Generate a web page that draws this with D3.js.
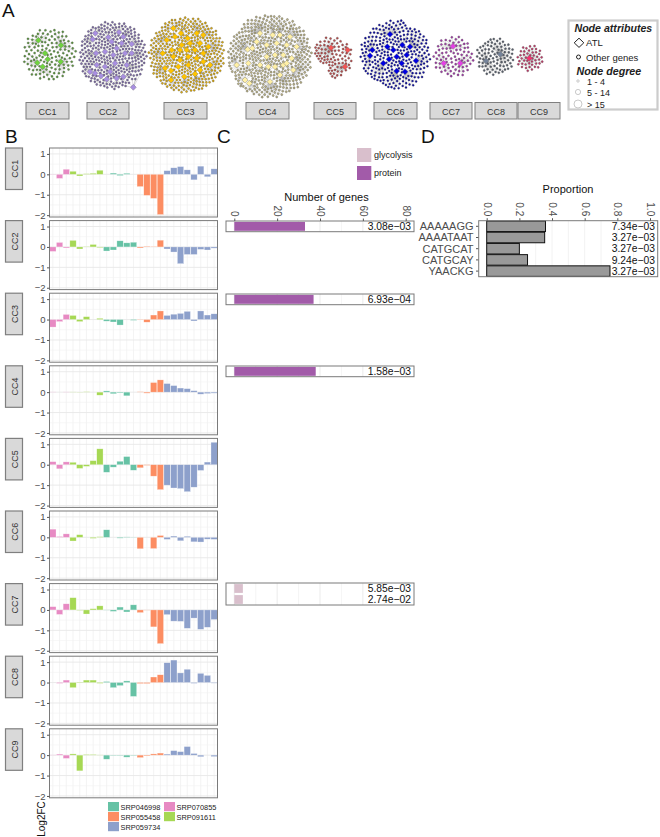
<!DOCTYPE html>
<html><head><meta charset="utf-8">
<script src="https://cdn.jsdelivr.net/npm/d3@7"></script>
<style>html,body{margin:0;padding:0;background:#fff}svg{display:block}text{font-family:"Liberation Sans",Arial,sans-serif}</style>
</head><body><svg id="c" width="660" height="837"></svg>
<script>
// ---------- Data ----------
const ccNames = ["CC1","CC2","CC3","CC4","CC5","CC6","CC7","CC8","CC9"];
const studies = ["SRP070855","SRP091611","SRP046998","SRP055458","SRP059734"];
const studyOfSample = [0,0,0,1,1,1,1,1,2,2,2,2,2,3,3,3,3,4,4,4,4,4,4,4,4];
const studyColors = ["#e78ac3","#a6d854","#66c2a5","#fc8d62","#8da0cb"];
const yTicks = [1,0,-1,-2];

const log2fcCC1 = [0.01,-0.2,0.25,0.15,-0.08,0.03,0.05,0.2,0,0.06,-0.06,0.05,0,-0.6,-1.03,-1.18,-1.97,0.18,0.32,0.38,0.22,-0.27,0.4,-0.12,0.27];
const log2fcCC2 = [-0.22,0.22,-0.05,0.32,-0.1,0.02,0.12,-0.03,-0.2,-0.15,0.3,0.2,0.23,-0.05,0.03,0.02,0.33,-0.1,-0.25,-0.82,-0.37,-0.37,-0.12,-0.15,-0.06];
const log2fcCC3 = [-0.37,-0.1,0.25,0.2,-0.1,0.14,0,0.06,-0.08,-0.12,-0.27,0,-0.04,-0.02,-0.13,0.22,0.42,0.2,0.26,0.3,0.4,-0.07,0.42,0.22,0.28];
const log2fcCC4 = [0.01,0,0.01,0.01,-0.01,0.02,0,-0.15,0.06,-0.08,-0.04,-0.18,0,0.02,-0.05,0.47,0.6,0.42,0.32,0.2,0.17,0.07,-0.1,-0.07,-0.05];
const log2fcCC5 = [0.15,-0.2,0.14,0.12,-0.18,-0.08,0.2,0.78,-0.37,-0.12,0.17,0.4,-0.27,-0.15,-0.03,-0.56,-1.22,-1.0,-1.14,-1.17,-1.32,-1.1,-0.28,0.13,1.1];
const log2fcCC6 = [0.4,0.04,0.17,-0.18,0.13,0,-0.05,0.03,0.37,0,-0.04,0.02,0.01,-0.56,0,-0.55,0.09,-0.1,0.06,-0.17,0.05,-0.22,-0.23,-0.09,-0.1];
const log2fcCC7 = [0.16,-0.22,0.3,0.6,-0.02,-0.2,0.06,0.2,-0.01,-0.07,0.14,-0.1,0.25,-0.13,-0.01,-0.83,-1.65,-0.23,-0.55,-0.56,-0.9,-0.4,-0.95,-0.85,-0.47];
const log2fcCC8 = [0,-0.04,0.12,-0.25,0.02,0.12,0.12,-0.04,0.05,-0.25,-0.15,0.08,-0.68,-0.05,-0.05,0.27,0.38,0.97,1.1,0.47,0.65,-0.04,0.45,0.35,-0.03];
const log2fcCC9 = [0.01,0.05,-0.16,0.06,-0.77,0.03,0.03,0.01,-0.2,-0.02,-0.02,-0.1,-0.02,-0.12,-0.04,0.06,0.1,0.05,0.22,0.17,0.42,0.08,-0.08,0,-0.07];
const log2fc = [log2fcCC1,log2fcCC2,log2fcCC3,log2fcCC4,log2fcCC5,log2fcCC6,log2fcCC7,log2fcCC8,log2fcCC9];

// Panel C: enrichment rows per CC
const geneTicks = [0,20,40,60,80];
const geneCC1 = [{term:"protein",genes:33,p:"3.08e\u221203"}];
const geneCC3 = [{term:"protein",genes:37,p:"6.93e\u221204"}];
const geneCC4 = [{term:"protein",genes:38,p:"1.58e\u221203"}];
const geneCC7 = [{term:"glycolysis",genes:4,p:"5.85e\u221203"},{term:"glycolysis",genes:4,p:"2.74e\u221202"}];
const geneRows = [[0,geneCC1],[2,geneCC3],[3,geneCC4],[6,geneCC7]];
const termNames = ["glycolysis","protein"];
const termColors = ["#d9bfcc","#a25ba9"];

// Panel D: motifs
const motifs = ["AAAAAGG","AAAATAAT","CATGCAT","CATGCAY","YAACKG"];
const motifProportion = [0.36,0.355,0.2,0.25,0.755];
const motifP = ["7.34e\u221203","3.27e\u221203","3.27e\u221203","9.24e\u221203","3.27e\u221203"];
const propTicks = [0,0.2,0.4,0.6,0.8,1];

// Panel A: network, hub positions, leaf counts estimated
const hubsCC1 = [[115,121],[183,136],[135,160],[143,178],[112,188],[128,200],[182,185]];
const hubsCC2 = [[278,118],[286,100],[325,112],[357,97],[370,110],[335,125],[365,130],[395,132],[288,160],[315,155],[340,165],[375,160],[395,160],[350,145],[290,195],[315,200],[270,215],[285,220],[303,228],[330,215],[350,235],[320,238],[370,230],[400,262],[345,190],[380,195]];
const hubsCC3 = [[520,85],[543,100],[563,115],[590,100],[610,105],[500,120],[525,110],[545,135],[570,130],[600,130],[625,140],[488,160],[515,150],[540,150],[560,150],[585,150],[610,160],[495,205],[520,170],[540,180],[565,170],[590,175],[630,195],[513,212],[535,200],[565,195],[600,210],[553,230],[585,222],[513,240],[610,185]];
const hubsCC4 = [[780,100],[818,105],[840,105],[870,110],[770,125],[800,135],[830,130],[860,135],[890,140],[743,148],[757,145],[800,170],[825,165],[850,165],[875,175],[745,190],[780,195],[805,200],[825,200],[850,195],[880,210],[710,195],[735,240],[748,250],[810,245],[840,225],[860,190]];
const hubsCC5 = [[3,143],[53,150],[45,200]];
const hubsCC6 = [[180,103],[127,150],[120,167],[172,140],[217,135],[240,140],[160,190],[177,178],[200,170],[230,165],[258,182],[200,213],[225,215],[190,150],[215,190]];
const hubsCC7 = [[369,139],[341,190],[391,190]];
const hubsCC8 = [[511,163],[468,183]];
const hubsCC9 = [[598,175]];
const leafCounts = [125,290,370,420,85,260,80,85,45];
const netCentres = [[148,163],[338,165],[560,165],[810,168],[6,172],[196,165],[370,170],[495,170],[600,175]];
const netRadii = [80,102,114,126,62,106,62,58,40];
const netReach = [0.62,0.46,0.42,0.44,0.72,0.5,0.72,0.9,1];
const netSheet = [0,0,0,0,1,1,1,1,1];
const netHubs = [hubsCC1,hubsCC2,hubsCC3,hubsCC4,hubsCC5,hubsCC6,hubsCC7,hubsCC8,hubsCC9];
const leafColors = ["#5f9d3f","#7f6cab","#e2ae08","#bdb484","#c04a4a","#0c0ca8","#a83bb0","#59616f","#c8386a"];
const hubColors  = ["#6fd33f","#a88fe0","#ffc400","#fff0a6","#f25555","#0505e0","#e53fe5","#74839a","#f5336f"];
const stripA = [[26,69],[87,129],[164,207],[246,289],[314,356],[374,417],[430,472],[475,517],[518,560]];

// ---------- Drawing ----------
const svg = d3.select("#c");
const FONT = '"Liberation Sans",Arial,sans-serif';
svg.append("defs").append("filter").attr("id","soft").attr("x","-5%").attr("y","-5%").attr("width","110%").attr("height","110%")
  .append("feGaussianBlur").attr("stdDeviation",0.3);
const letter = (t,x,y)=>svg.append("text").attr("x",x).attr("y",y).attr("font-size",19).attr("fill","#111").text(t);
letter("A",2,17); letter("B",5,143); letter("C",217,143); letter("D",421,143);

// Panel A
const sheetX = [d3.scaleLinear().domain([0,990]).range([0,330]), d3.scaleLinear().domain([0,990]).range([330,660])];
const sheetY = d3.scaleLinear().domain([0,390]).range([0,130]);
const gNet = svg.append("g").attr("filter","url(#soft)");
netHubs.forEach((hubList,i)=>{
  const sx = sheetX[netSheet[i]];
  const cx = sx(netCentres[i][0]), cy = sheetY(netCentres[i][1]), R = sx(netRadii[i])-sx(0);
  const hubs = hubList.map(h=>({x:sx(h[0]),y:sheetY(h[1]),fx:sx(h[0]),fy:sheetY(h[1]),hub:true}));
  const n = leafCounts[i];
  const golden = Math.PI*(3-Math.sqrt(5));
  const leaves = d3.range(n).map(k=>{
    const rr = R*Math.sqrt((k+0.5)/n), a = k*golden;
    return {x:cx+rr*Math.cos(a),y:cy+rr*Math.sin(a)};
  });
  const links = leaves.map(l=>{
    const t = hubs[d3.leastIndex(hubs,h=>(h.x-l.x)**2+(h.y-l.y)**2)];
    const d0 = Math.hypot(t.x-l.x,t.y-l.y);
    return {source:l,target:t,d:Math.max(R*0.16,Math.min(d0,R*netReach[i]))};
  });
  const nodes = hubs.concat(leaves);
  const sim = d3.forceSimulation(nodes)
    .force("link",d3.forceLink(links).distance(d=>d.d).strength(0.22))
    .force("col",d3.forceCollide(1.6).strength(0.6))
    .stop();
  sim.alpha(0.7); sim.tick(80);
  leaves.forEach(l=>{
    const dx=l.x-cx,dy=l.y-cy,d=Math.hypot(dx,dy);
    if(d>R){l.x=cx+dx/d*R;l.y=cy+dy/d*R;}
  });
  const g = gNet.append("g");
  g.selectAll("line").data(links).join("line")
    .attr("x1",d=>d.source.x).attr("y1",d=>d.source.y)
    .attr("x2",d=>d.target.x).attr("y2",d=>d.target.y)
    .attr("stroke","#9a9a9a").attr("stroke-width",0.4).attr("stroke-opacity",0.75);
  g.selectAll("circle").data(leaves).join("circle")
    .attr("cx",d=>d.x).attr("cy",d=>d.y).attr("r",1.05)
    .attr("fill",leafColors[i]).attr("stroke","#333").attr("stroke-width",0.3);
  g.selectAll("path").data(hubs).join("path")
    .attr("d",d=>`M${d.x},${d.y-3}L${d.x+3},${d.y}L${d.x},${d.y+3}L${d.x-3},${d.y}Z`)
    .attr("fill",hubColors[i]).attr("stroke","#555").attr("stroke-width",0.3);
  // strip
  svg.append("rect").attr("x",stripA[i][0]).attr("y",102.5).attr("width",stripA[i][1]-stripA[i][0]).attr("height",16.5)
    .attr("fill","#d9d9d9").attr("stroke","#7f7f7f").attr("stroke-width",1);
  svg.append("text").attr("x",(stripA[i][0]+stripA[i][1])/2).attr("y",114.5).attr("text-anchor","middle")
    .attr("font-size",9).attr("fill","#333").text(ccNames[i]);
});

// Node legend
const lg = svg.append("g");
lg.append("rect").attr("x",568.5).attr("y",20.5).attr("width",89).attr("height",89).attr("fill","#fff").attr("stroke","#ccc").attr("stroke-width",2.2);
const lgT=(t,x,y,o={})=>lg.append("text").attr("x",x).attr("y",y).attr("font-size",o.s||9.5).attr("fill","#222")
   .attr("font-weight",o.b?"bold":null).attr("font-style",o.b?"italic":null).text(t);
lgT("Node attributes",574.5,31.5,{b:1,s:10.6});
lg.append("path").attr("d","M579,38.2L583.8,42.8L579,47.4L574.2,42.8Z").attr("fill","#fff").attr("stroke","#222").attr("stroke-width",1);
lgT("ATL",586,46);
lg.append("circle").attr("cx",578.5).attr("cy",57).attr("r",2).attr("fill","#fff").attr("stroke","#222").attr("stroke-width",1);
lgT("Other genes",586,61);
lgT("Node degree",576.5,75,{b:1,s:10.7});
[[81,1.2,"1 - 4"],[92,2.6,"5 - 14"],[104,4,"> 15"]].forEach(r=>{
  lg.append("circle").attr("cx",578).attr("cy",r[0]).attr("r",r[1]).attr("fill","#fff").attr("stroke","#bbb").attr("stroke-width",0.8);
  lgT(r[2],587,r[0]+3.5,{s:9});
});

// Panel B
const pX0=49.5,pX1=217.5,pH=69,pitch=72.6,pTop=148;
const x = d3.scaleBand().domain(d3.range(25)).range([pX0,pX1]).padding(0);
const panelY = top=>d3.scaleLinear().domain([1.29,-2.09]).range([top,top+pH]);
log2fc.forEach((vals,i)=>{
  const top = pTop+pitch*i, y = panelY(top);
  const g = svg.append("g");
  g.append("rect").attr("x",pX0).attr("y",top).attr("width",pX1-pX0).attr("height",pH).attr("fill","#fff");
  g.selectAll(".v").data(x.domain()).join("line").attr("class","v")
    .attr("x1",d=>x(d)+x.bandwidth()/2).attr("x2",d=>x(d)+x.bandwidth()/2).attr("y1",top).attr("y2",top+pH)
    .attr("stroke","#efefef").attr("stroke-width",0.7);
  g.selectAll(".hm").data([0.5,-0.5,-1.5]).join("line").attr("class","hm")
    .attr("x1",pX0).attr("x2",pX1).attr("y1",d=>y(d)).attr("y2",d=>y(d)).attr("stroke","#f2f2f2").attr("stroke-width",0.6);
  g.selectAll(".h").data(yTicks).join("line").attr("class","h")
    .attr("x1",pX0).attr("x2",pX1).attr("y1",d=>y(d)).attr("y2",d=>y(d)).attr("stroke","#e8e8e8").attr("stroke-width",0.9);
  g.selectAll(".b").data(vals).join("rect").attr("class","b")
    .attr("x",(d,k)=>x(k)+0.2).attr("width",x.bandwidth()-0.4)
    .attr("y",d=>y(Math.max(0,d))).attr("height",d=>Math.abs(y(d)-y(0)))
    .attr("fill",(d,k)=>studyColors[studyOfSample[k]])
    .attr("stroke","#fff").attr("stroke-opacity",0.55).attr("stroke-width",0.5);
  g.append("rect").attr("x",pX0).attr("y",top).attr("width",pX1-pX0).attr("height",pH).attr("fill","none").attr("stroke","#7a7a7a").attr("stroke-width",1);
  const ax = g.append("g").attr("transform",`translate(${pX0},0)`).call(d3.axisLeft(y).tickValues(yTicks).tickSize(2.5).tickPadding(1.5).tickFormat(d3.format("d")));
  ax.select(".domain").remove();
  ax.selectAll("line").attr("stroke","#555");
  ax.selectAll("text").attr("font-size",9.5).attr("fill","#4d4d4d").style("font-family",FONT);
  // strip
  svg.append("rect").attr("x",5.5).attr("y",top).attr("width",17).attr("height",41.5).attr("fill","#d9d9d9").attr("stroke","#7f7f7f").attr("stroke-width",1.2);
  svg.append("text").attr("transform",`translate(17.5,${top+20.8}) rotate(-90)`).attr("text-anchor","middle")
    .attr("font-size",9).attr("fill","#333").text(ccNames[i]);
});
svg.append("text").attr("transform","translate(45,819) rotate(-90)").attr("text-anchor","middle").attr("font-size",10).attr("fill","#111").text("Log2FC");

// Study legend
const legendOrder = [2,3,4,0,1];
legendOrder.forEach((s,k)=>{
  const col = k<3?0:1, row = k<3?k:k-3;
  const lx = col?164:108, ly = 802+row*10;
  svg.append("rect").attr("x",lx).attr("y",ly).attr("width",11).attr("height",9.2).attr("fill",studyColors[s]);
  svg.append("text").attr("x",lx+12.5).attr("y",ly+7.8).attr("font-size",7.4).attr("fill","#222").text(studies[s]);
});

// Panel C
const cx = d3.scaleLinear().domain([0,80]).range([234.3,405.7]);
const cPanel = {0:[221,10.7],2:[294,10.7],3:[366,10.7],6:[583,22]};
const termCol = d3.scaleOrdinal(termNames,termColors);
geneRows.forEach(([ccIndex,rows],ri)=>{
  const [top,h] = cPanel[ccIndex];
  const g = svg.append("g");
  g.append("rect").attr("x",226).attr("y",top).attr("width",188).attr("height",h).attr("fill","#fff");
  g.selectAll(".m").data(d3.range(0,81,10)).join("line").attr("class","m")
    .attr("x1",d=>cx(d)).attr("x2",d=>cx(d)).attr("y1",top).attr("y2",top+h)
    .attr("stroke",d=>d%20?"#f2f2f2":"#e6e6e6").attr("stroke-width",0.8);
  const y = d3.scaleBand().domain(d3.range(rows.length)).range([top,top+h]).paddingInner(rows.length>1?0.2:0).paddingOuter(0.1);
  g.selectAll(".b").data(rows).join("rect").attr("class","b")
    .attr("x",cx(0)).attr("width",d=>cx(d.genes)-cx(0))
    .attr("y",(d,k)=>y(k)).attr("height",y.bandwidth()).attr("fill",d=>termCol(d.term));
  g.selectAll(".p").data(rows).join("text").attr("class","p")
    .attr("x",411).attr("y",(d,k)=>y(k)+y.bandwidth()/2+3.6).attr("text-anchor","end")
    .attr("font-size",10.3).attr("fill","#111").text(d=>d.p);
  g.append("rect").attr("x",226).attr("y",top).attr("width",188).attr("height",h).attr("fill","none").attr("stroke","#7a7a7a").attr("stroke-width",1);
});
const topAxis = (scale,yPos,ticks,fmt)=>{
  const a = svg.append("g").attr("transform",`translate(0,${yPos})`)
    .call(d3.axisTop(scale).tickValues(ticks).tickSize(2.5).tickFormat(fmt));
  a.select(".domain").remove();
  a.selectAll("line").attr("stroke","#555");
  a.selectAll("text").attr("transform","translate(0,-4.5) rotate(90)").attr("text-anchor","end").attr("x",0).attr("y",0).attr("dy","0.35em")
   .attr("font-size",10).attr("fill","#4d4d4d").style("font-family",FONT);
};
topAxis(cx,221,geneTicks,d3.format("d"));
svg.append("text").attr("x",326.5).attr("y",201).attr("text-anchor","middle").attr("font-size",11).attr("fill","#111").text("Number of genes");
termNames.forEach((t,k)=>{
  const ly = 148+k*18;
  svg.append("rect").attr("x",357).attr("y",ly).attr("width",14.3).attr("height",14).attr("fill",termColors[k]);
  svg.append("text").attr("x",374).attr("y",ly+9.8).attr("font-size",9).attr("fill","#222").text(t);
});

// Panel D
const dx = d3.scaleLinear().domain([0,1]).range([486.7,650]);
const dy = d3.scaleBand().domain(motifs).range([220.7,276.7]).paddingInner(0.06).paddingOuter(0.03);
const gD = svg.append("g");
gD.append("rect").attr("x",478.7).attr("y",220.7).attr("width",179).attr("height",56).attr("fill","#fff");
gD.selectAll(".m").data(d3.range(0,1.01,0.1)).join("line").attr("class","m")
  .attr("x1",d=>dx(d)).attr("x2",d=>dx(d)).attr("y1",220.7).attr("y2",276.7)
  .attr("stroke","#efefef").attr("stroke-width",0.8);
gD.selectAll(".b").data(motifs).join("rect").attr("class","b")
  .attr("x",dx(0)).attr("y",d=>dy(d)).attr("height",dy.bandwidth())
  .attr("width",(d,k)=>dx(motifProportion[k])-dx(0))
  .attr("fill","#999").attr("stroke","#111").attr("stroke-width",1);
gD.selectAll(".p").data(motifs).join("text").attr("class","p")
  .attr("x",655).attr("y",d=>dy(d)+dy.bandwidth()/2+3.7).attr("text-anchor","end")
  .attr("font-size",10.3).attr("fill","#111").text((d,k)=>motifP[k]);
gD.selectAll(".l").data(motifs).join("text").attr("class","l")
  .attr("x",473.5).attr("y",d=>dy(d)+dy.bandwidth()/2+3.9).attr("text-anchor","end")
  .attr("font-size",11).attr("fill","#4d4d4d").text(d=>d);
gD.selectAll(".t").data(motifs).join("line").attr("class","t")
  .attr("x1",476).attr("x2",478.7).attr("y1",d=>dy(d)+dy.bandwidth()/2).attr("y2",d=>dy(d)+dy.bandwidth()/2).attr("stroke","#555");
gD.append("rect").attr("x",478.7).attr("y",220.7).attr("width",179).attr("height",56).attr("fill","none").attr("stroke","#7a7a7a").attr("stroke-width",1);
topAxis(dx,220.7,propTicks,d3.format(".1f"));
svg.append("text").attr("x",568).attr("y",193).attr("text-anchor","middle").attr("font-size",11).attr("fill","#111").text("Proportion");
</script></body></html>
